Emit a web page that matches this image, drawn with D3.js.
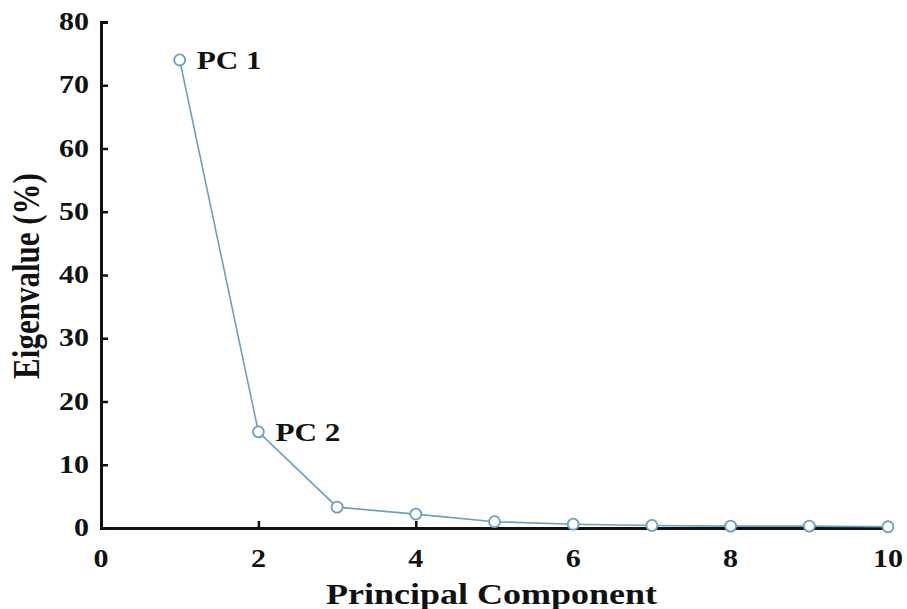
<!DOCTYPE html>
<html>
<head>
<meta charset="utf-8">
<script src="https://cdn.jsdelivr.net/npm/d3@7"></script>
<style>
  body { margin: 0; background: #fff; }
  text { font-family: "Liberation Serif", "DejaVu Serif", serif; font-weight: bold; fill: #111; }
</style>
</head>
<body>
<svg id="chart" width="907" height="609"></svg>
<script>
// scree plot data
const components = [1, 2, 3, 4, 5, 6, 7, 8, 9, 10];
const eigenvalues = [74, 15.2, 3.3, 2.2, 1.0, 0.6, 0.4, 0.3, 0.3, 0.2];
const xTicks = [0, 2, 4, 6, 8, 10];
const yTicks = [0, 10, 20, 30, 40, 50, 60, 70, 80];
const pointLabels = [{ idx: 0, text: "PC 1" }, { idx: 1, text: "PC 2" }];

const svg = d3.select("#chart");
const stretch = 1.2; // source picture is horizontally stretched

const x = d3.scaleLinear().domain([0, 10]).range([101, 888]);
const y = d3.scaleLinear().domain([0, 80]).range([528, 22]);

// text helper with horizontal stretch around anchor
function label(tx, ty, str, size, anchor, rot) {
    return svg.append("text")
        .attr("transform", `translate(${tx},${ty}) scale(${stretch},1)` + (rot ? ` rotate(${rot})` : ""))
        .attr("text-anchor", anchor)
        .attr("font-size", size)
        .text(str);
}

// axes
const xAxis = svg.append("g").attr("transform", `translate(0,${y(0)})`)
    .call(d3.axisBottom(x).tickValues(xTicks).tickSize(-7).tickFormat(""));
const yAxis = svg.append("g").attr("transform", `translate(${x(0)},0)`)
    .call(d3.axisLeft(y).tickValues(yTicks).tickSize(-7).tickFormat(""));
[xAxis, yAxis].forEach(g => {
    g.select(".domain").attr("stroke", "#111").attr("stroke-width", 3);
    g.selectAll(".tick line").attr("stroke", "#111").attr("stroke-width", 2.5);
});

xTicks.forEach(t => label(x(t), 567, t, 25, "middle"));
yTicks.forEach(t => label(89, y(t) + 8, t, 25, "end"));

label(x(5) - 3, 604, "Principal Component", 30, "middle");
label(39, y(40) + 1, "Eigenvalue (%)", 31, "middle", -90);

// line + markers
const line = d3.line().x((d, i) => x(components[i])).y(d => y(d));
svg.append("path").datum(eigenvalues)
    .attr("d", line)
    .attr("fill", "none")
    .attr("stroke", "#6a9fbf")
    .attr("stroke-width", 1.6);

svg.selectAll("circle.pt").data(eigenvalues).enter().append("circle")
    .attr("class", "pt")
    .attr("cx", (d, i) => x(components[i]))
    .attr("cy", d => y(d))
    .attr("r", 5.5)
    .attr("fill", "#fff")
    .attr("stroke", "#6a9fbf")
    .attr("stroke-width", 1.8);

pointLabels.forEach(p => {
    label(x(components[p.idx]) + 17, y(eigenvalues[p.idx]) + 9, p.text, 26, "start");
});
</script>
</body>
</html>
